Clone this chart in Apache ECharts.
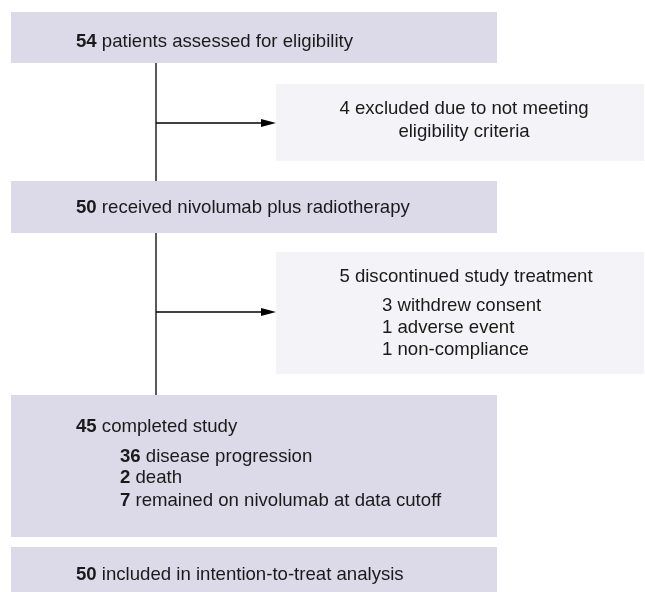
<!DOCTYPE html>
<html>
<head>
<meta charset="utf-8">
<script src="https://cdn.jsdelivr.net/npm/echarts@6/dist/echarts.min.js"></script>
<style>html,body{margin:0;padding:0;background:#fff}#chart{width:645px;height:592px}</style>
</head>
<body>
<div id="chart"></div>
<script>
// ---- data ----
const mainCounts = [54, 50, 45, 50];
const mainLabels = ['patients assessed for eligibility', 'received nivolumab plus radiotherapy', 'completed study', 'included in intention-to-treat analysis'];
const excludedCount = 4;
const excludedLines = ['excluded due to not meeting', 'eligibility criteria'];
const discontinuedCount = 5;
const discontinuedLabel = 'discontinued study treatment';
const discReasonCounts = [3, 1, 1];
const discReasonLabels = ['withdrew consent', 'adverse event', 'non-compliance'];
const completedReasonCounts = [36, 2, 7];
const completedReasonLabels = ['disease progression', 'death', 'remained on nivolumab at data cutoff'];

// ---- layout (diagram coordinates, not data) ----
const W = 645, H = 592;
const FONT = 'Liberation Sans, Arial, sans-serif';
const FS = 18.6;
const mainBoxes = [[11, 12, 497, 63], [11, 181, 497, 233], [11, 395, 497, 537], [11, 547, 497, 592]];
const sideBoxes = [[276, 84, 644, 161], [276, 252, 644, 374]];
const stemX = 156;
const arrowYs = [123, 312];
const MAIN_COL = '#dcdae8', SIDE_COL = '#f3f3f8';

function renderItem(params, api) {
  const P = (x, y) => api.coord([x, y]);
  const children = [];
  const rect = (b, fill) => {
    const a = P(b[0], b[1]), c = P(b[2], b[3]);
    children.push({type: 'rect', shape: {x: a[0], y: a[1], width: c[0] - a[0], height: c[1] - a[1]}, style: {fill: fill}});
  };
  mainBoxes.forEach(b => rect(b, MAIN_COL));
  sideBoxes.forEach(b => rect(b, SIDE_COL));
  const line = (x1, y1, x2, y2) => {
    const a = P(x1, y1), c = P(x2, y2);
    children.push({type: 'line', shape: {x1: a[0], y1: a[1], x2: c[0], y2: c[1]}, style: {stroke: '#000', lineWidth: 1.3}});
  };
  line(stemX, mainBoxes[0][3], stemX, mainBoxes[1][1]);
  line(stemX, mainBoxes[1][3], stemX, mainBoxes[2][1]);
  arrowYs.forEach((y, i) => {
    const tipX = sideBoxes[i][0];
    line(stemX, y, tipX - 10, y);
    const t = P(tipX, y), b1 = P(tipX - 15, y - 4), b2 = P(tipX - 15, y + 4);
    children.push({type: 'polygon', shape: {points: [t, b1, b2]}, style: {fill: '#000'}});
  });
  const rich = {b: {fontWeight: 'bold', fontSize: FS, fontFamily: FONT, fill: '#1a1a1a'}};
  const text = (x, y, str, align) => {
    const p = P(x, y);
    children.push({type: 'text', x: p[0], y: p[1], style: {text: str, rich: rich, font: FS + 'px ' + FONT, fill: '#1a1a1a', align: align || 'left', verticalAlign: 'middle'}});
  };
  // main boxes
  text(76, 42, '{b|' + mainCounts[0] + '} ' + mainLabels[0]);
  text(76, 208, '{b|' + mainCounts[1] + '} ' + mainLabels[1]);
  text(76, 427, '{b|' + mainCounts[2] + '} ' + mainLabels[2]);
  const subY1 = [457, 478, 501];
  completedReasonCounts.forEach((c, i) => text(120, subY1[i], '{b|' + c + '} ' + completedReasonLabels[i]));
  text(76, 575, '{b|' + mainCounts[3] + '} ' + mainLabels[3]);
  // side boxes
  text(464, 109, excludedCount + ' ' + excludedLines[0], 'center');
  text(464, 132, excludedLines[1], 'center');
  text(466, 277, discontinuedCount + ' ' + discontinuedLabel, 'center');
  const subY2 = [306, 328, 350];
  discReasonCounts.forEach((c, i) => text(382, subY2[i], c + ' ' + discReasonLabels[i]));
  return {type: 'group', children: children};
}

const chart = echarts.init(document.getElementById('chart'), null, {renderer: 'canvas'});
chart.setOption({
  animation: false,
  backgroundColor: '#fff',
  grid: {left: 0, right: 0, top: 0, bottom: 0},
  xAxis: {type: 'value', min: 0, max: W, show: false},
  yAxis: {type: 'value', min: 0, max: H, inverse: true, show: false},
  series: [{type: 'custom', renderItem: renderItem, data: [[0, 0]], silent: true, clip: false}]
});
</script>
</body>
</html>
